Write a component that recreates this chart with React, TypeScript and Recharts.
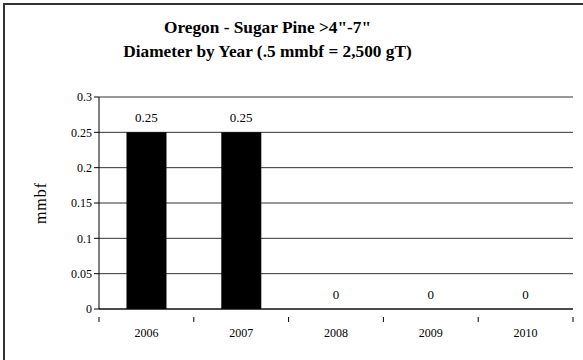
import { ComposedChart, Bar, Line, XAxis, YAxis, CartesianGrid, LabelList, Label } from 'recharts';

const years = ['2006', '2007', '2008', '2009', '2010'];
const volumes = [0.25, 0.25, 0, 0, 0];
const yTicks = [0, 0.05, 0.1, 0.15, 0.2, 0.25, 0.3];

const data = years.map((year, i) => ({ year, mmbf: volumes[i] }));

const FONT = '"Liberation Serif", "Times New Roman", serif';

// Excel-style ticks: marks sit on the category boundaries, not the centres
function YearTick(props: any) {
  const { x, y, payload, index } = props;
  const half = payload?.offset ?? 0;
  const last = index === years.length - 1;
  return (
    <g>
      <line x1={x - half} y1={y} x2={x - half} y2={y + 5} stroke="#000" />
      {last && <line x1={x + half} y1={y} x2={x + half} y2={y + 5} stroke="#000" />}
      <text x={x} y={y + 20} textAnchor="middle" fontSize={12} style={{ fontFamily: FONT }} fill="#000">
        {payload.value}
      </text>
    </g>
  );
}

export default function App() {
  return (
    <div style={{ position: 'absolute', left: 0, top: 0, width: 583, height: 360, background: '#fff', fontFamily: FONT }}>
      <div style={{ position: 'absolute', left: 3, top: 3, width: 580, height: 357, borderTop: '2px solid #333', borderLeft: '2px solid #333' }} />
      <div style={{ position: 'absolute', left: 0, width: 535, top: 16, textAlign: 'center', fontSize: 17.3, fontWeight: 'bold', lineHeight: '24px', color: '#000' }}>
        <div>Oregon - Sugar Pine &gt;4"-7"</div>
        <div>Diameter by Year (.5 mmbf = 2,500 gT)</div>
      </div>
      <ComposedChart
        width={583}
        height={360}
        data={data}
        margin={{ top: 97, right: 10, bottom: 21, left: 29 }}
        barCategoryGap="29%"
        style={{ position: 'absolute', left: 0, top: 0 }}
      >
        <CartesianGrid yAxisId="left" vertical={false} stroke="#333" strokeOpacity={1} />
        <XAxis
          dataKey="year"
          height={30}
          axisLine={{ stroke: '#000' }}
          tickLine={false}
          tick={<YearTick />}
          interval={0}
        />
        <YAxis
          yAxisId="left"
          width={70}
          domain={[0, 0.3]}
          ticks={yTicks}
          tickSize={5}
          axisLine={{ stroke: '#000' }}
          tickLine={{ stroke: '#000' }}
          tick={{ fontSize: 12, fill: '#000', style: { fontFamily: FONT } }}
        >
          <Label
            content={({ viewBox }: any) => {
              const cx = viewBox.x + 11;
              const cy = viewBox.y + viewBox.height / 2;
              return (
                <text x={cx} y={cy} transform={`rotate(-90 ${cx} ${cy})`} textAnchor="middle" dominantBaseline="central" fontSize={16} letterSpacing={1} style={{ fontFamily: FONT }} fill="#000">
                  mmbf
                </text>
              );
            }}
          />
        </YAxis>
        <YAxis yAxisId="right" orientation="right" width={0} tick={false} tickLine={false} axisLine={{ stroke: '#222', strokeWidth: 2 }} domain={[0, 0.3]} />
        <Bar yAxisId="left" dataKey="mmbf" fill="#000" isAnimationActive={false} />
        {/* invisible line carries the value labels so the zero bars get theirs too */}
        <Line yAxisId="left" dataKey="mmbf" stroke="none" dot={false} activeDot={false} isAnimationActive={false}>
          <LabelList dataKey="mmbf" position="top" offset={10} fontSize={13} fill="#000" style={{ fontFamily: FONT }} />
        </Line>
      </ComposedChart>
    </div>
  );
}
